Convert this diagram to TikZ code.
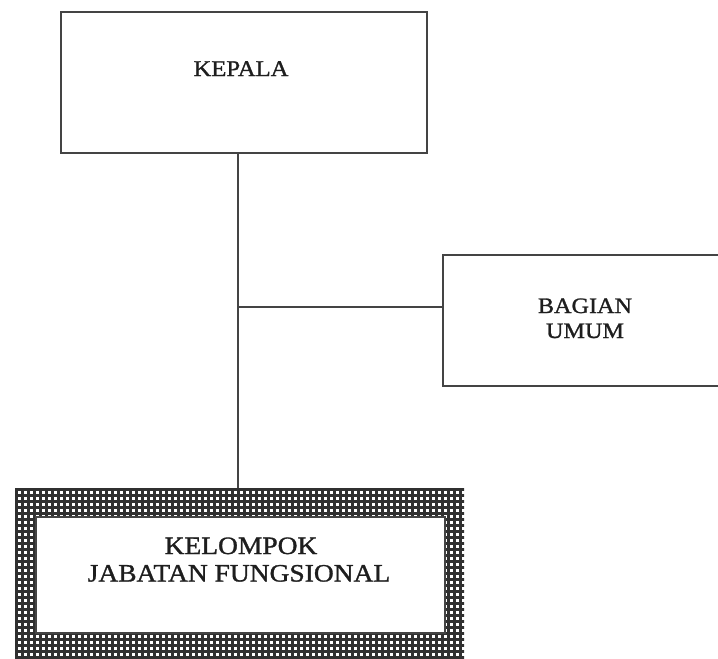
\documentclass[tikz,border=0pt]{standalone}
\usepackage{fontspec}
\setmainfont{Liberation Serif}[FakeStretch=1.1,FakeBold=1.2]
\definecolor{linec}{HTML}{444444}
\definecolor{hatchc}{HTML}{303030}
\definecolor{textc}{HTML}{1E1E1E}
\begin{document}
\begin{tikzpicture}[x=1pt,y=-1pt,
  box/.style={draw=linec,line width=1.8pt,fill=white,rectangle,inner sep=0pt,outer sep=0pt},
  lbl/.style={text=textc,inner sep=0pt,anchor=base,align=center},
  conn/.style={draw=linec,line width=1.8pt},
  hatchframe/.style={rectangle,inner sep=0pt,outer sep=0pt,fill=white,
    path picture={
      \foreach \hx in {-223,-217,...,226}{\draw[hatchc,line width=2.5pt] (\hx,-95) -- (\hx,95);}
      \foreach \hy in {-88.5,-82.5,...,95}{\draw[hatchc,line width=2.5pt] (-230,\hy) -- (230,\hy);}
    }},
  innerbox/.style={draw=linec,line width=1.2pt,fill=white,rectangle,inner sep=0pt,outer sep=0pt}]
\useasboundingbox (0,0) rectangle (718,659);
% boxes
\node[box,minimum width=366pt,minimum height=141pt] (kepala) at (244,82.5) {};
\node[box,minimum width=280pt,minimum height=131pt] (bagian) at (583,320.5) {};
\node[hatchframe,minimum width=449pt,minimum height=180pt] (kjf) at (239.5,578) {};
\node[innerbox,minimum width=409pt,minimum height=116pt] (kjfin) at (240.5,575) {};
% texts
\node[lbl,font=\fontsize{22.4}{26}\selectfont] (tkepala) at (241,76) {KEPALA};
\node[lbl,font=\fontsize{22}{25}\selectfont] (tbagian1) at (585,313) {BAGIAN};
\node[lbl,font=\fontsize{22}{25}\selectfont] (tbagian2) at (585,338) {UMUM};
\node[lbl,font=\fontsize{25}{28}\selectfont] (tkjf1) at (241,554) {KELOMPOK};
\node[lbl,font=\fontsize{25}{28}\selectfont] (tkjf2) at (239,581.5) {JABATAN FUNGSIONAL};
% connectors
\coordinate (j) at (238,307);
\draw[conn] (kepala.south -| j) -- (kjf.north -| j);
\draw[conn] (j) -- (j -| bagian.west);
\end{tikzpicture}
\end{document}
